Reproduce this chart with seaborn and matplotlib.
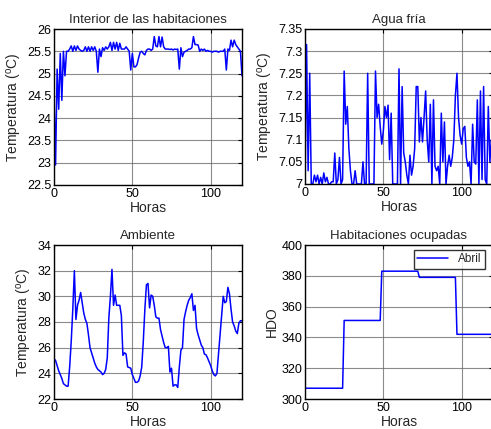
import numpy as np
import pandas as pd
import matplotlib
matplotlib.use("Agg")
import matplotlib.pyplot as plt
import seaborn as sns

# Hourly readings, hour 0 .. 120
horas = list(range(121))

interior = [
    24.50, 22.95, 25.10, 24.20, 25.45, 24.40, 25.50, 24.95, 25.50, 25.50,
    25.55, 25.62, 25.50, 25.62, 25.52, 25.62, 25.55, 25.52, 25.50, 25.52,
    25.60, 25.50, 25.60, 25.50, 25.60, 25.52, 25.60, 25.50, 25.03, 25.55,
    25.38, 25.58, 25.52, 25.60, 25.55, 25.60, 25.70, 25.52, 25.70, 25.55,
    25.70, 25.52, 25.68, 25.55, 25.55, 25.55, 25.60, 25.55, 25.50, 25.08,
    25.45, 25.15, 25.15, 25.20, 25.35, 25.48, 25.50, 25.45, 25.42, 25.52,
    25.55, 25.55, 25.52, 25.55, 25.83, 25.62, 25.60, 25.83, 25.60, 25.82,
    25.60, 25.55, 25.55, 25.55, 25.54, 25.55, 25.53, 25.55, 25.54, 25.55,
    25.10, 25.58, 25.38, 25.48, 25.50, 25.52, 25.55, 25.55, 25.58, 25.83,
    25.65, 25.65, 25.64, 25.50, 25.55, 25.52, 25.55, 25.50, 25.52, 25.50,
    25.50, 25.48, 25.50, 25.50, 25.50, 25.48, 25.50, 25.50, 25.50, 25.55,
    25.08, 25.55, 25.52, 25.75, 25.60, 25.75, 25.65, 25.60, 25.55, 25.50,
    24.95,
]

agua_fria = [
    7.000, 7.315, 7.030, 7.250, 7.000, 7.000, 7.020, 7.005, 7.020, 7.000,
    7.015, 7.000, 7.025, 7.005, 7.015, 7.000, 7.000, 7.005, 7.005, 7.070,
    7.000, 7.010, 7.060, 7.000, 7.010, 7.255, 7.135, 7.175, 7.080, 7.030,
    7.000, 7.000, 7.030, 7.000, 7.000, 7.000, 7.000, 7.050, 7.000, 7.000,
    7.250, 7.000, 7.000, 7.000, 7.000, 7.255, 7.150, 7.180, 7.130, 7.090,
    7.120, 7.175, 7.150, 7.178, 7.055, 7.160, 7.000, 7.000, 7.000, 7.000,
    7.260, 7.000, 7.220, 7.070, 7.050, 7.020, 7.000, 7.065, 7.020, 7.040,
    7.080, 7.220, 7.220, 7.095, 7.150, 7.095, 7.150, 7.210, 7.100, 7.050,
    7.180, 7.000, 7.190, 7.040, 7.030, 7.040, 7.000, 7.160, 7.050, 7.140,
    7.000, 7.040, 7.065, 7.040, 7.060, 7.100, 7.200, 7.250, 7.150, 7.110,
    7.090, 7.125, 7.130, 7.060, 7.040, 7.050, 7.000, 7.135, 7.050, 7.045,
    7.190, 7.000, 7.210, 7.010, 7.220, 7.010, 7.000, 7.175, 7.050, 7.100,
    7.050,
]

ambiente = [
    25.14, 25.00, 24.60, 24.20, 23.90, 23.60, 23.20, 23.10, 23.00, 23.00,
    24.50, 26.50, 29.00, 32.00, 28.20, 29.30, 29.70, 30.30, 29.50, 28.70,
    28.20, 27.90, 27.00, 26.00, 25.60, 25.20, 24.80, 24.50, 24.30, 24.20,
    24.10, 23.90, 24.00, 24.30, 25.20, 28.30, 30.00, 32.10, 29.30, 30.10,
    29.30, 29.30, 29.30, 28.50, 25.40, 25.60, 25.50, 24.50, 24.45, 24.40,
    23.90, 23.60, 23.30, 23.30, 23.40, 23.80, 24.50, 26.50, 29.00, 30.90,
    31.00, 29.10, 30.10, 30.00, 29.30, 28.40, 28.30, 28.30, 27.40, 26.90,
    26.40, 26.00, 26.00, 26.10, 24.10, 24.40, 23.00, 23.10, 23.10, 22.90,
    24.50, 25.80, 26.00, 28.20, 28.80, 29.30, 29.70, 29.90, 30.20, 28.90,
    29.30, 27.50, 27.00, 26.60, 26.20, 26.00, 25.50, 25.45, 25.20, 24.90,
    24.60, 24.20, 23.90, 23.80, 24.00, 25.50, 27.00, 28.50, 30.00, 29.50,
    29.60, 30.70, 30.20, 29.00, 28.00, 27.70, 27.30, 27.10, 27.90, 28.10,
    28.10,
]

# Occupied rooms per day in April (constant over each 24 h block)
hdo_dia = [307, 351, 383, 379, 342]
hdo = [hdo_dia[0]] * 25 + [hdo_dia[1]] * 24 + [hdo_dia[2]] * 24 + \
      [hdo_dia[3]] * 24 + [hdo_dia[4]] * 24

df = pd.DataFrame({
    "Horas": horas,
    "interior": interior,
    "agua": agua_fria,
    "ambiente": ambiente,
    "hdo": hdo,
})

sns.set_style("white")
plt.rcParams["font.family"] = ["Liberation Sans", "DejaVu Sans"]
plt.rcParams["mathtext.fontset"] = "custom"
plt.rcParams["mathtext.rm"] = "Liberation Sans"
plt.rcParams["mathtext.it"] = "Liberation Sans"

fig = plt.figure(figsize=(4.91, 4.29), dpi=100)

W = 188 / 491
axes_pos = [
    (54 / 491, 1 - 185 / 429, W, 156 / 429),
    (305 / 491, 1 - 184 / 429, W, 155 / 429),
    (54 / 491, 1 - 399 / 429, W, 154 / 429),
    (305 / 491, 1 - 399 / 429, W, 154 / 429),
]

ylabel_t = r"Temperatura ($^{\mathrm{o}}$C)"

specs = [
    ("interior", "Interior de las habitaciones", ylabel_t,
     (22.5, 26), [22.5, 23, 23.5, 24, 24.5, 25, 25.5, 26],
     ["22.5", "23", "23.5", "24", "24.5", "25", "25.5", "26"]),
    ("agua", "Agua fría", ylabel_t,
     (7, 7.35), [7, 7.05, 7.1, 7.15, 7.2, 7.25, 7.3, 7.35],
     ["7", "7.05", "7.1", "7.15", "7.2", "7.25", "7.3", "7.35"]),
    ("ambiente", "Ambiente", ylabel_t,
     (22, 34), [22, 24, 26, 28, 30, 32, 34],
     ["22", "24", "26", "28", "30", "32", "34"]),
    ("hdo", "Habitaciones ocupadas", "HDO",
     (300, 400), [300, 320, 340, 360, 380, 400],
     ["300", "320", "340", "360", "380", "400"]),
]

for pos, (col, title, ylab, ylim, yt, ytl) in zip(axes_pos, specs):
    ax = fig.add_axes(pos)
    kw = dict(label="Abril") if col == "hdo" else {}
    sns.lineplot(data=df, x="Horas", y=col, ax=ax, color="#0000ff",
                 linewidth=1.1, **kw)
    ax.set_xlim(0, 120)
    ax.set_ylim(*ylim)
    ax.set_xticks([0, 50, 100])
    ax.set_xticklabels(["0", "50", "100"])
    ax.set_yticks(yt)
    ax.set_yticklabels(ytl)
    ax.grid(True, color="#6e6e6e", linewidth=0.8, alpha=0.8)
    ax.set_axisbelow(True)
    for s in ax.spines.values():
        s.set_visible(True)
        s.set_color("black")
        s.set_linewidth(1.0)
    ax.tick_params(direction="in", length=3, width=0.8, top=True,
                   right=True, labelsize=9, pad=2, colors="black")
    ax.set_title(title, fontsize=9.5, pad=4)
    ax.set_xlabel("Horas", fontsize=10, labelpad=1)
    ax.set_ylabel(ylab, fontsize=10, labelpad=2)
    if col == "hdo":
        leg = ax.legend(loc="upper right", fontsize=8.5, frameon=True,
                        fancybox=False, borderaxespad=0.4, handlelength=2.6,
                        borderpad=0.3, bbox_to_anchor=(0.98, 1.0))
        leg.get_frame().set_edgecolor("black")
        leg.get_frame().set_linewidth(1.0)
    elif ax.get_legend() is not None:
        ax.get_legend().remove()

fig.savefig("out.png", dpi=100)
